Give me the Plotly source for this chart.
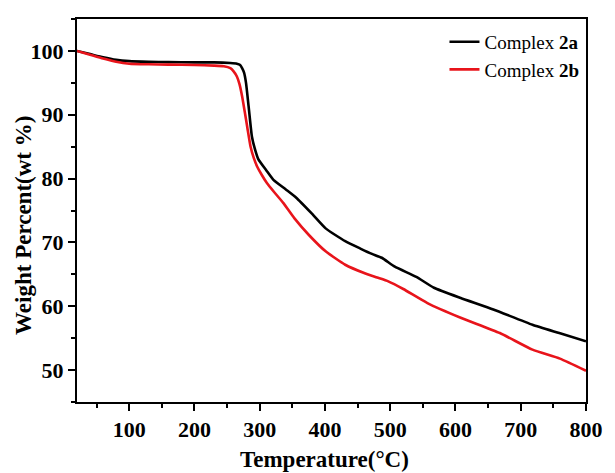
import plotly.graph_objects as go

# TGA curves: temperature (°C) vs. remaining weight (wt %)
temp_2a = [20, 40, 60, 80, 100, 130, 160, 200, 230, 255, 265, 270, 273, 276, 279, 283, 288,
           293, 298, 310, 321, 340, 356, 380, 401, 431, 455, 472, 487, 507, 540, 567, 608,
           658, 718, 759, 800]
weight_2a = [100.0, 99.5, 99.0, 98.6, 98.4, 98.3, 98.25, 98.2, 98.2, 98.1, 98.0, 97.8, 97.3,
             96.6, 95.0, 91.3, 86.6, 84.5, 83.0, 81.3, 79.8, 78.3, 77.0, 74.5, 72.2, 70.2,
             69.0, 68.2, 67.6, 66.2, 64.6, 62.9, 61.3, 59.5, 57.1, 55.8, 54.5]

temp_2b = [20, 40, 60, 80, 100, 130, 160, 200, 230, 245, 255, 260, 265, 269, 273, 277, 281,
           286, 291, 296, 303, 311, 322, 336, 353, 375, 401, 431, 460, 480, 497, 520, 557,
           608, 668, 718, 760, 800]
weight_2b = [100.0, 99.4, 98.8, 98.3, 98.0, 97.9, 97.85, 97.8, 97.7, 97.6, 97.3, 96.8, 96.0,
             94.8, 92.9, 90.5, 88.0, 85.0, 83.2, 81.9, 80.6, 79.3, 77.9, 76.2, 73.8, 71.2,
             68.6, 66.5, 65.2, 64.5, 63.9, 62.7, 60.5, 58.2, 55.8, 53.2, 51.8, 49.9]

series_names = ["Complex <b>2a</b>", "Complex <b>2b</b>"]
series_colors = ["#000000", "#e8141b"]

x_ticks = [100, 200, 300, 400, 500, 600, 700, 800]
y_ticks = [50, 60, 70, 80, 90, 100]

SERIF = "Liberation Serif, Times New Roman, serif"

fig = go.Figure()
for t, w, name, color in zip([temp_2a, temp_2b], [weight_2a, weight_2b], series_names, series_colors):
    fig.add_trace(go.Scatter(
        x=t, y=w, mode="lines", name=name,
        line=dict(color=color, width=2.6, shape="spline", smoothing=0.5),
    ))

axis_common = dict(
    showgrid=False, zeroline=False,
    showline=True, linecolor="black", linewidth=2, mirror=True,
    ticks="outside", ticklen=7, tickwidth=1.5, tickcolor="black",
    tickfont=dict(family=SERIF, size=22, color="black", weight="bold"),
)

fig.update_xaxes(
    range=[20, 800], tickvals=x_ticks,
    minor=dict(ticks="outside", ticklen=4, tickwidth=1.5, tickcolor="black", dtick=50, tick0=0),
    **axis_common,
)
fig.update_yaxes(
    range=[45, 105], tickvals=y_ticks,
    minor=dict(ticks="outside", ticklen=4, tickwidth=1.5, tickcolor="black", dtick=5, tick0=0),
    **axis_common,
)

fig.update_layout(
    width=615, height=473,
    margin=dict(l=77, r=21, t=19, b=71),
    plot_bgcolor="white", paper_bgcolor="white",
    showlegend=True,
    legend=dict(
        x=0.997, y=0.99, xanchor="right", yanchor="top",
        bgcolor="rgba(0,0,0,0)", borderwidth=0,
        font=dict(family=SERIF, size=19, color="black"),
        tracegroupgap=0, itemwidth=30,
    ),
    annotations=[
        dict(text="<b>Temperature(°C)</b>", xref="paper", yref="paper",
             x=0.487, y=-0.151, xanchor="center", yanchor="middle", showarrow=False,
             font=dict(family=SERIF, size=23, color="black")),
        dict(text="<b>Weight Percent(wt %)</b>", xref="paper", yref="paper",
             x=-0.104, y=0.46, xanchor="center", yanchor="middle", showarrow=False,
             textangle=-90, font=dict(family=SERIF, size=23, color="black")),
    ],
)

fig.write_html("out.html")
